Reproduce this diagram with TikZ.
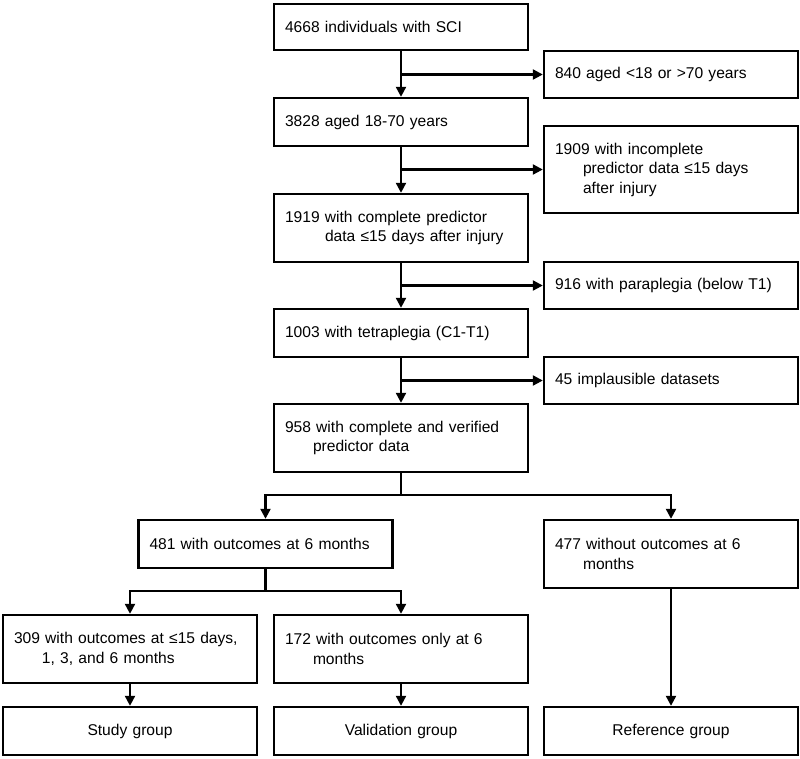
\documentclass[tikz,border=0pt]{standalone}
\usepackage{fontspec}
\setmainfont{Liberation Sans}
\usetikzlibrary{arrows.meta}
\newcommand{\ind}{\hspace*{28pt}}

\begin{document}
\begin{tikzpicture}[x=1pt,y=-1pt,
    every node/.style={font=\fontsize{15.6}{19.5}\selectfont},
    box/.style={draw,line width=2.4pt,inner xsep=11pt,inner ysep=0pt,text width=232pt,align=left},
    grp/.style={box,align=center,minimum height=48pt},
    >={Triangle[length=10pt,width=10pt]}]
  \useasboundingbox (0,0) rectangle (800,758);
  % main column
  \node[box,minimum height=46pt] (sci) at (401,27) {4668 individuals with SCI};
  \node[box,minimum height=48pt] (age) at (401,122) {3828 aged 18-70 years};
  \node[box,minimum height=68pt] (pred) at (401,228)
    {1919 with complete predictor\\\hspace*{40pt}data ≤15 days after injury};
  \node[box,minimum height=48pt] (tetra) at (401,333) {1003 with tetraplegia (C1-T1)};
  \node[box,minimum height=68pt] (verif) at (401,438)
    {958 with complete and verified\\\ind predictor data};
  % exclusions
  \node[box,minimum height=47pt] (ageout) at (671,74.5) {840 aged <18 or >70 years};
  \node[box,minimum height=87pt] (predout) at (671,169.5)
    {1909 with incomplete\\\ind predictor data ≤15 days\\\ind after injury};
  \node[box,minimum height=47pt] (para) at (671,285.5) {916 with paraplegia (below T1)};
  \node[box,minimum height=47pt] (implaus) at (671,380.5) {45 implausible datasets};
  % outcome split
  \node[box,minimum height=48pt] (out6) at (265.5,544) {481 with outcomes at 6 months};
  \node[box,minimum height=68pt] (noout) at (671,554)
    {477 without outcomes at 6\\\ind months};
  \node[box,minimum height=68pt] (allout) at (130,649)
    {309 with outcomes at ≤15 days,\\\ind 1, 3, and 6 months};
  \node[box,minimum height=68pt] (only6) at (401,649)
    {172 with outcomes only at 6\\\ind months};
  % groups
  \node[grp] (study) at (130,731) {Study group};
  \node[grp] (valid) at (401,731) {Validation group};
  \node[grp] (ref) at (671,731) {Reference group};
  \coordinate (fork1) at (401,495);
  \coordinate (fork2) at (265.5,591);
  \begin{scope}[->,line width=2.2pt]
    \draw (sci) -- (age);
    \draw (sci |- ageout) -- (ageout);
    \draw (age) -- (pred);
    \draw (age |- predout) -- (predout);
    \draw (pred) -- (tetra);
    \draw (pred |- para) -- (para);
    \draw (tetra) -- (verif);
    \draw (tetra |- implaus) -- (implaus);
    \draw[-] (verif) -- (fork1);
    \draw (fork1) -| (out6);
    \draw (fork1) -| (noout);
    \draw[-] (out6) -- (fork2);
    \draw (fork2) -| (allout);
    \draw (fork2) -| (only6);
    \draw (allout) -- (study);
    \draw (only6) -- (valid);
    \draw (noout) -- (ref);
  \end{scope}
\end{tikzpicture}
\end{document}
